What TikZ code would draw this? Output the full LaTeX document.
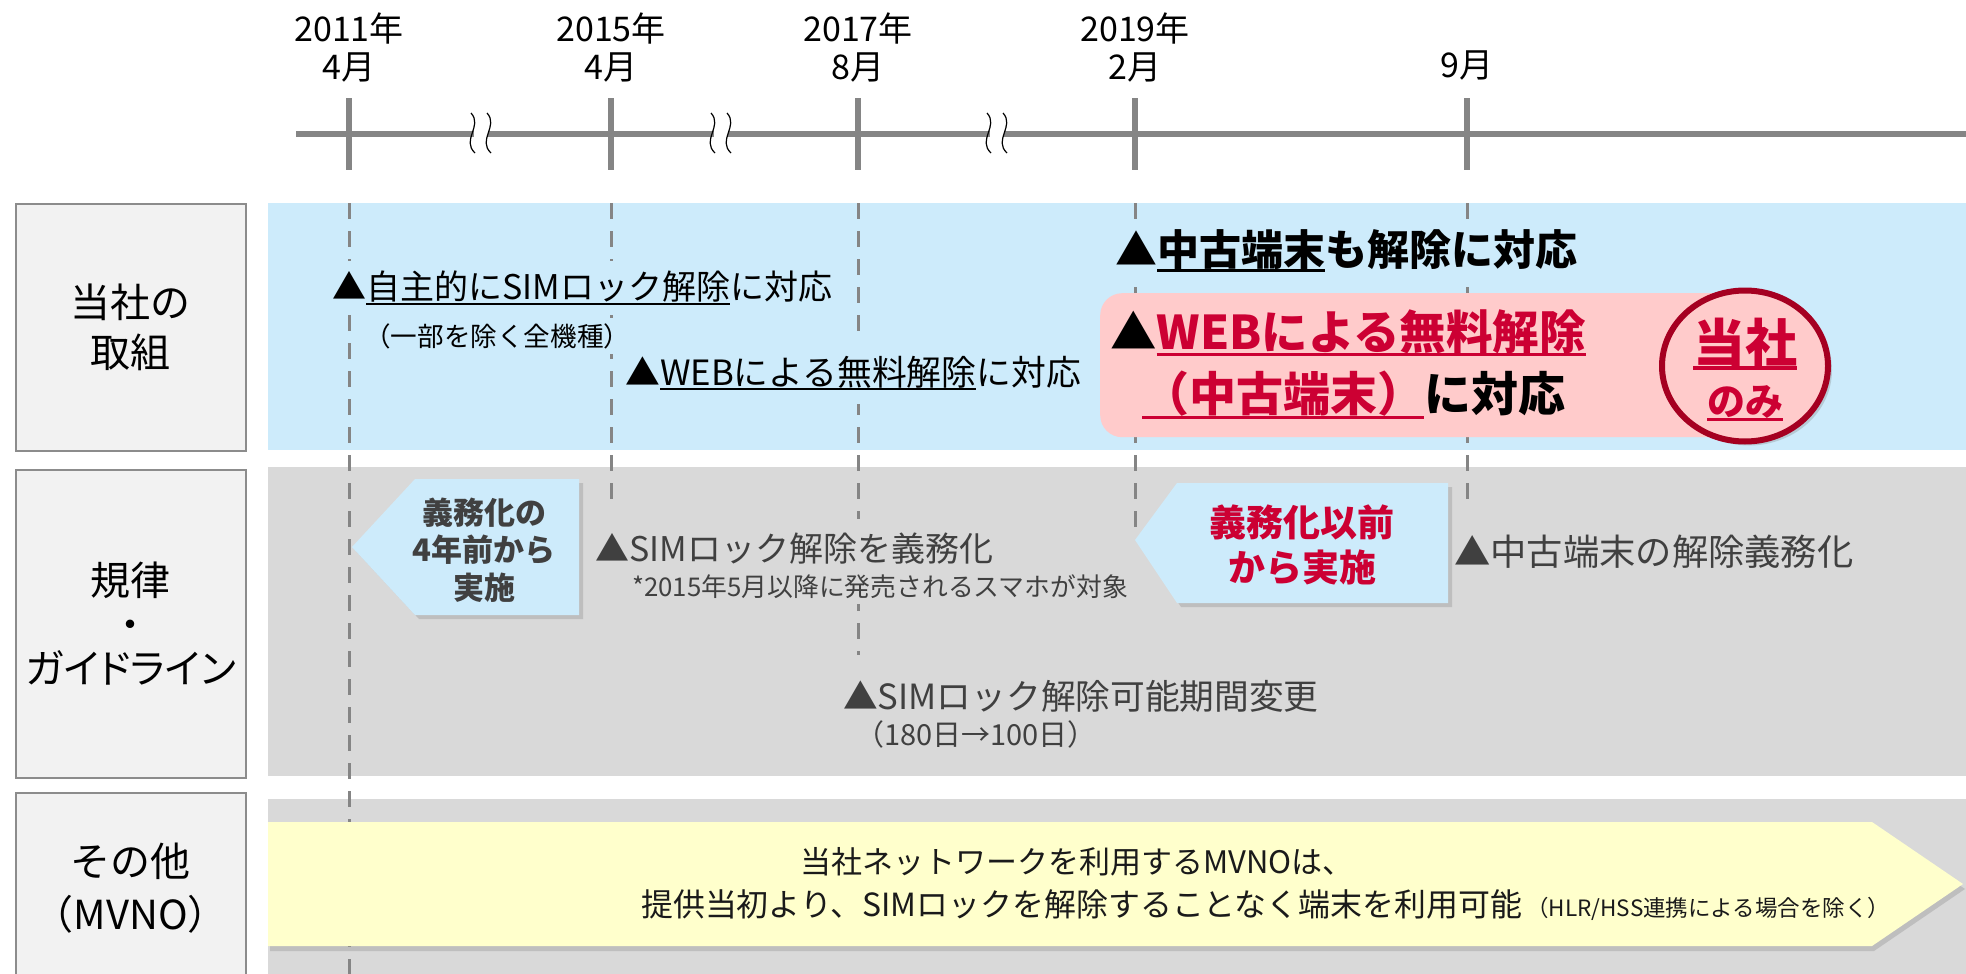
\documentclass[tikz,border=0pt]{standalone}
\usepackage{fontspec}
\setmainfont{Noto Sans CJK JP}
\newfontfamily\jpp[RawFeature=+palt]{Noto Sans CJK JP}
\usetikzlibrary{shadows,shapes.geometric}
\definecolor{bandblue}{HTML}{CDEBFB}
\definecolor{bandgrey}{HTML}{D9D9D9}
\definecolor{labelfill}{HTML}{F2F2F2}
\definecolor{labeldraw}{HTML}{8C8C8C}
\definecolor{axisgrey}{HTML}{858585}
\definecolor{txtgrey}{HTML}{404040}
\definecolor{txtdark}{HTML}{1A1A1A}
\definecolor{crimson}{HTML}{CC0033}
\definecolor{pinkfill}{HTML}{FFCBCB}
\definecolor{darkred}{HTML}{A50021}
\definecolor{yellowfill}{HTML}{FFFFCC}
\newcommand\fsz[2]{\fontsize{#1}{#2}\selectfont}
\newcommand\myul[1]{\setbox0=\hbox{#1}\rlap{\rule[-0.15em]{\wd0}{0.07em}}\box0}
\tikzset{
  axisline/.style={draw=axisgrey, line width=5.5pt},
  guide/.style={draw=axisgrey, line width=3pt, dash pattern=on 16pt off 12pt},
  lbl/.style={draw=labeldraw, line width=1.5pt, fill=labelfill, anchor=north west, minimum width=230pt, align=center, inner sep=0pt},
  yr/.style={align=center, font={\fsz{34}{38}}, inner sep=0pt},
  evt/.style={anchor=west, inner xsep=2pt, inner ysep=10pt, font={\fsz{34}{40}}},
  evtsmall/.style={anchor=west, inner xsep=2pt, inner ysep=5pt, font={\fsz{25}{30}}},
  boldevt/.style={anchor=west, inner xsep=2pt, inner ysep=8pt, font={\bfseries\fsz{42}{50}}},
  pinkbox/.style={fill=pinkfill, rounded corners=22pt, anchor=north west, inner sep=0pt},
  shadowed/.style={drop shadow={shadow xshift=4pt, shadow yshift=-4pt, opacity=0.3}},
  callout/.style={fill=bandblue, shadowed},
  yarrow/.style={fill=yellowfill, drop shadow={shadow xshift=2pt, shadow yshift=-5pt, opacity=0.3}},
  wave/.style={draw=black, line width=1.2pt},
}
\begin{document}
\begin{tikzpicture}[x=1pt,y=-1pt]
\useasboundingbox (0,0) rectangle (1966,974);
% bands
\fill[bandblue] (268,203) rectangle (1966,450);
\fill[bandgrey] (268,467) rectangle (1966,776);
\fill[bandgrey] (268,799) rectangle (1966,974);
% row labels
\node (lab1) [lbl, minimum height=247pt, font={\fsz{40}{50}}] at (15,203) {当社の\\取組};
\node (lab2) [lbl, minimum height=308pt, font={\fsz{40}{44}}] at (15,469) {規律\\・\\{\jpp ガイドライン}};
\node (lab3) [lbl, minimum height=190pt, font={\fsz{40}{53}}] at (15,792) {その他\\（MVNO）};
% axis
\coordinate (axL) at (296,134);
\coordinate (axR) at (1966,134);
\draw[axisline] (axL) -- (axR);
\foreach \n/\x in {1/349,2/611,3/858,4/1135,5/1467}{
  \coordinate (t\n) at (\x,134);
  \draw[axisline] (\x,98) -- (\x,170);
}
% breaks
\foreach \c in {481,721,997}{
  \fill[white] (\c-7,127) rectangle (\c+7,142);
  \draw[wave] (\c-10,113) .. controls (\c+2,126) and (\c-20,140) .. (\c-6,153);
  \draw[wave] (\c+6,113) .. controls (\c+18,126) and (\c-4,140) .. (\c+10,153);
}
% dates
\node (y1) [yr] at (349,48) {2011年\\4月};
\node (y2) [yr] at (611,48) {2015年\\4月};
\node (y3) [yr] at (858,48) {2017年\\8月};
\node (y4) [yr] at (1135,48) {2019年\\2月};
\node (y5) [yr] at (1467,65) {9月};
% guides
\draw[guide] (349,203) -- (349,974);
\draw[guide] (611,203) -- (611,510);
\draw[guide] (858,203) -- (858,655);
\draw[guide] (1135,203) -- (1135,538);
\draw[guide] (1467,203) -- (1467,510);
% row 1
\node (a1) [evt, fill=bandblue] at (330,288) {▲\myul{自主的にSIMロック解除}に対応};
\node (a1s) [evtsmall, fill=bandblue, font={\fsz{26.6}{31}}] at (362,336) {（一部を除く全機種）};
\node (a2) [evt, fill=bandblue, inner ysep=14pt, font={\fsz{34.8}{40}}] at (623,373) {▲\myul{WEBによる無料解除}に対応};
\node (a3) [boldevt, fill=bandblue] at (1113,251) {▲\myul{中古端末}も解除に対応};
\node (pk) [pinkbox, minimum width=645pt, minimum height=144pt] at (1100,293) {};
\node (pk1) [anchor=west, inner sep=0pt, font={\bfseries\fsz{46.5}{56}}] at (1110,333) {▲\textcolor{crimson}{\myul{WEBによる無料解除}}};
\node (pk2) [anchor=west, inner sep=0pt, font={\bfseries\fsz{47}{56}}] at (1142,395) {\textcolor{crimson}{\myul{（中古端末）}}に対応};
\node (only) [ellipse, draw=darkred, line width=6pt, fill=pinkfill, minimum width=166pt, minimum height=151pt, shadowed] at (1745,366) {};
\node (only1) [inner sep=0pt, text=crimson, font={\bfseries\fsz{52}{60}}] at (1745,344) {\myul{当社}};
\node (only2) [inner sep=0pt, text=crimson, font={\bfseries\fsz{38}{44}}] at (1745,403) {\myul{のみ}};
% row 2
\node (b1) [evt, text=txtgrey, fill=bandgrey, inner ysep=14pt] at (593,549) {▲SIMロック解除を義務化};
\node (b1s) [evtsmall, text=txtgrey, fill=bandgrey, font={\fsz{25.8}{30}}] at (630,587) {*2015年5月以降に発売されるスマホが対象};
\node (b2) [evt, text=txtgrey, fill=bandgrey, font={\fsz{34.7}{40}}] at (841,696) {▲SIMロック解除可能期間変更};
\node (b2s) [evtsmall, text=txtgrey, fill=bandgrey, font={\fsz{29}{34}}] at (853,734) {（180日→100日）};
\node (b3) [evt, text=txtgrey, fill=bandgrey, font={\fsz{36.3}{42}}] at (1452,552) {▲中古端末の解除義務化};
\path[callout] (352,547) -- (415,479) -- (579,479) -- (579,615) -- (415,615) -- cycle;
\node (c1) [align=center, inner sep=0pt, text=txtgrey, font={\bfseries\fsz{31}{37.5}}] at (484,550) {義務化の\\4年前から\\実施};
\path[callout] (1135,540) -- (1177,483) -- (1448,483) -- (1448,603) -- (1177,603) -- cycle;
\node (c2) [align=center, inner sep=0pt, text=crimson, font={\bfseries\fsz{37}{45}}] at (1302,545) {義務化以前\\から実施};
% row 3
\path[yarrow] (268,822) -- (1872,822) -- (1963,884) -- (1872,946) -- (268,946) -- cycle;
\node (d1) [anchor=west, inner sep=0pt, text=txtdark, font={\fsz{31}{36}}] at (800,862) {当社ネットワークを利用するMVNOは、};
\node (d2) [anchor=west, inner sep=0pt, text=txtdark, font={\fsz{31.9}{37}}] at (641,904) {提供当初より、SIMロックを解除することなく端末を利用可能};
\node (d3) [anchor=base west, inner sep=0pt, text=txtdark, font={\fsz{22.5}{26}}, xshift=4pt] at (d2.base east) {（HLR/HSS連携による場合を除く）};
\end{tikzpicture}
\end{document}
